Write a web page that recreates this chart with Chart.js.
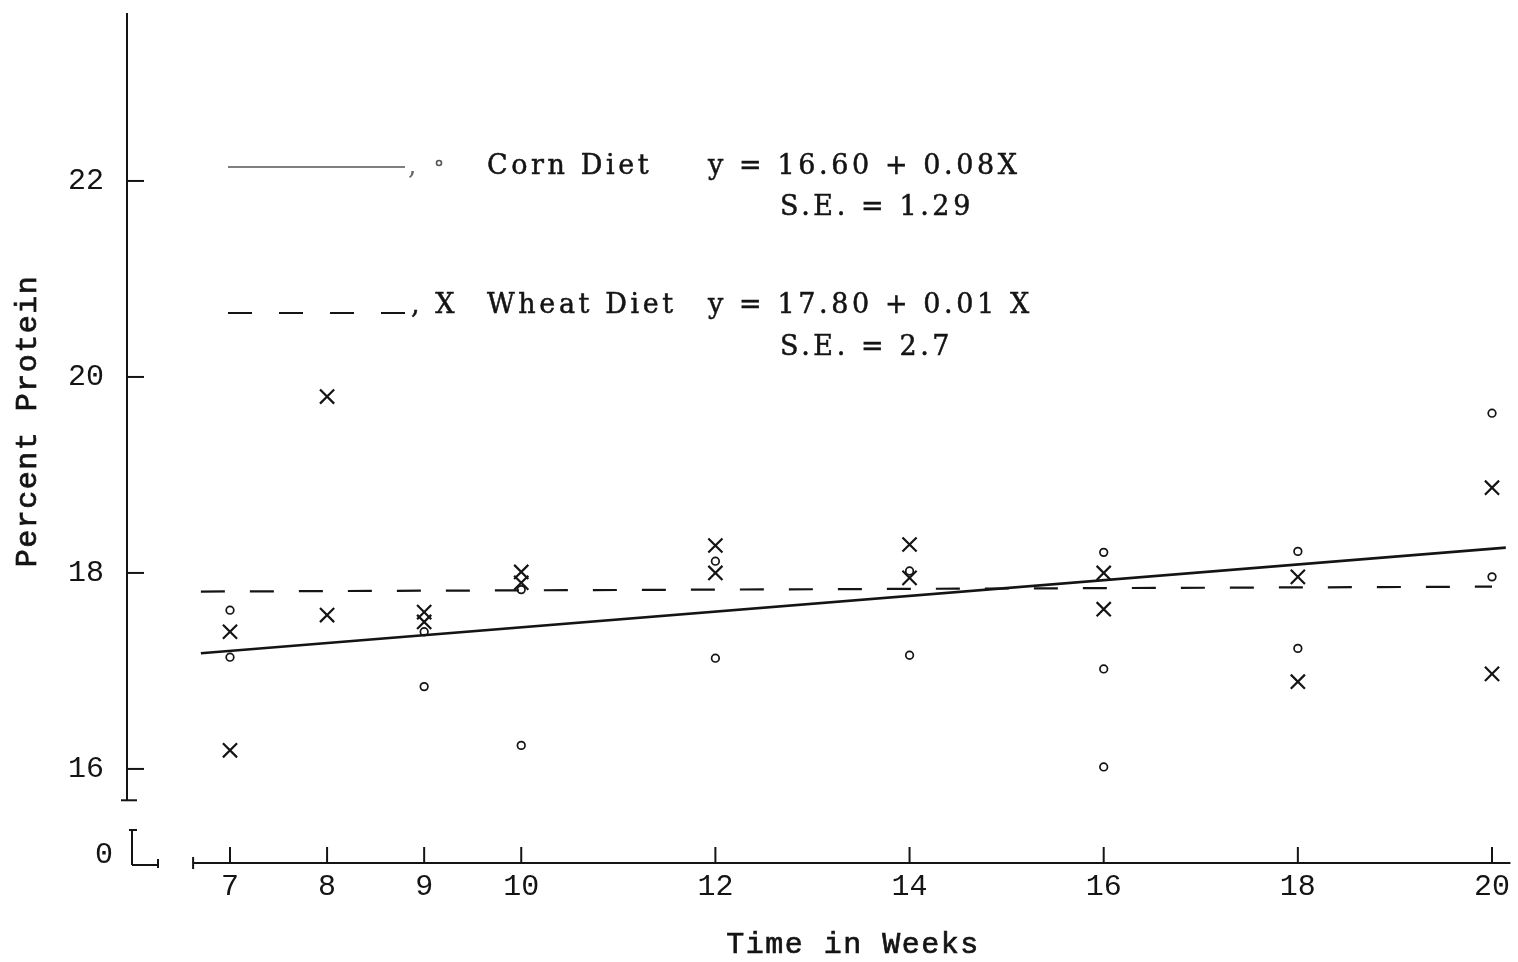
<!DOCTYPE html>
<html lang="en">
<head>
    <meta charset="UTF-8">
    <title>Percent Protein by Week</title>
    <script src="https://cdn.jsdelivr.net/npm/chart.js"></script>
    <style>
        body { margin: 0; background: #fff; }
        #proteinChart { display: block; }
    </style>
</head>
<body>
    <canvas id="proteinChart" width="1518" height="962"></canvas>

    <script>
        // Weeks on the time axis and protein ticks
        const weeks = [7, 8, 9, 10, 12, 14, 16, 18, 20];
        const proteinTicks = [16, 18, 20, 22];

        // Corn diet samples
        const cornWeeks  = [7, 7, 9, 9, 10, 10, 12, 12, 14, 14, 16, 16, 16, 18, 18, 20, 20];
        const cornValues = [17.62, 17.14, 17.40, 16.84, 17.83, 16.24, 18.12, 17.13, 18.02, 17.16,
                            18.21, 17.02, 16.02, 18.22, 17.23, 19.63, 17.96];

        // Wheat diet samples
        const wheatWeeks  = [7, 7, 8, 8, 9, 9, 10, 10, 12, 12, 14, 14, 16, 16, 18, 18, 20, 20];
        const wheatValues = [17.40, 16.19, 19.80, 17.57, 17.60, 17.50, 18.01, 17.90, 18.28, 18.00,
                             18.29, 17.95, 18.00, 17.63, 17.96, 16.89, 18.87, 16.97];

        // Regression lines (end points)
        const cornFitWeeks   = [6.7, 20.17];
        const cornFitValues  = [17.18, 18.26];
        const wheatFitWeeks  = [6.7, 20.0];
        const wheatFitValues = [17.81, 17.86];

        const cornKey  = ['Corn Diet', 'y = 16.60 + 0.08X', 'S.E. = 1.29'];
        const wheatKey = ['Wheat Diet', 'y = 17.80 + 0.01 X', 'S.E. = 2.7'];

        const ink = '#141414';
        const typeFont = '"Liberation Mono", monospace';
        const serifFont = '"DejaVu Serif", serif';

        const toPoints = (xs, ys) => xs.map((w, i) => ({ x: w, y: ys[i] }));

        function seg(ctx, x1, y1, x2, y2) {
            ctx.beginPath();
            ctx.moveTo(x1, y1);
            ctx.lineTo(x2, y2);
            ctx.stroke();
        }

        // typed text: fill plus a hairline stroke so it reads like ribbon ink
        function typed(ctx, text, x, y) {
            ctx.fillText(text, x, y);
            ctx.strokeText(text, x, y);
        }

        // hand-drawn style axes with a broken zero, plus the key and axis titles
        const paperAxes = {
            id: 'paperAxes',
            afterDraw(chart) {
                const { ctx, chartArea, scales: { x, y } } = chart;
                const left = chartArea.left, bottom = chartArea.bottom;
                ctx.save();
                ctx.strokeStyle = ink;
                ctx.fillStyle = ink;
                ctx.lineWidth = 2;

                // protein axis
                const yEnd = y.getPixelForValue(15.68);
                seg(ctx, left, chartArea.top, left, yEnd);
                seg(ctx, left - 6, yEnd, left + 10, yEnd);
                proteinTicks.forEach(v => {
                    const py = y.getPixelForValue(v);
                    seg(ctx, left, py, left + 17, py);
                });

                // zero stub
                seg(ctx, left + 2, bottom - 33, left + 10, bottom - 33);
                seg(ctx, left + 5, bottom - 33, left + 5, bottom + 2);
                seg(ctx, left + 5, bottom + 2, left + 31, bottom + 2);
                seg(ctx, left + 31, bottom - 4, left + 31, bottom + 5);

                // time axis
                const xStart = x.getPixelForValue(6.62);
                const xEnd = x.getPixelForValue(20.19);
                seg(ctx, xStart, bottom, xEnd, bottom);
                seg(ctx, xStart, bottom - 6, xStart, bottom + 6);
                weeks.forEach(w => {
                    const px = x.getPixelForValue(w);
                    seg(ctx, px, bottom, px, bottom - 16);
                });

                // zero label on the broken axis
                ctx.font = '30px ' + typeFont;
                ctx.textAlign = 'center';
                ctx.textBaseline = 'middle';
                ctx.fillText('0', left - 23, bottom - 8);

                // key
                ctx.lineWidth = 1.6;
                ctx.strokeStyle = '#555';
                seg(ctx, 228, 167, 405, 167);
                ctx.beginPath();
                ctx.arc(439, 163, 2.5, 0, Math.PI * 2);
                ctx.stroke();
                ctx.strokeStyle = ink;
                ctx.lineWidth = 2;
                ctx.setLineDash([24, 27]);
                seg(ctx, 228, 313, 410, 313);
                ctx.setLineDash([]);

                ctx.textAlign = 'left';
                ctx.font = '27px ' + serifFont;
                ctx.letterSpacing = '3.6px';
                ctx.lineWidth = 0.5;
                ctx.fillStyle = '#666';
                ctx.fillText(',', 408, 167);
                ctx.fillStyle = ink;
                typed(ctx, ', X', 411, 306);
                typed(ctx, cornKey[0], 487, 167);
                typed(ctx, cornKey[1], 708, 167);
                typed(ctx, cornKey[2], 780, 208);
                typed(ctx, wheatKey[0], 487, 306);
                typed(ctx, wheatKey[1], 708, 306);
                typed(ctx, wheatKey[2], 780, 348);

                // axis titles
                ctx.font = '30px ' + typeFont;
                ctx.letterSpacing = '1.5px';
                ctx.lineWidth = 0.7;
                ctx.textAlign = 'center';
                typed(ctx, 'Time in Weeks', 853, 945);
                ctx.translate(28, 421);
                ctx.rotate(-Math.PI / 2);
                typed(ctx, 'Percent Protein', 0, 0);
                ctx.restore();
            }
        };

        const ctx = document.getElementById('proteinChart').getContext('2d');
        new Chart(ctx, {
            type: 'scatter',
            data: {
                datasets: [
                    {
                        label: 'Wheat Diet',
                        data: toPoints(wheatWeeks, wheatValues),
                        pointStyle: 'crossRot',
                        pointRadius: 10,
                        borderColor: ink,
                        pointBorderWidth: 2.2
                    },
                    {
                        label: 'Corn Diet',
                        data: toPoints(cornWeeks, cornValues),
                        pointStyle: 'circle',
                        pointRadius: 3.8,
                        borderColor: ink,
                        backgroundColor: 'rgba(0,0,0,0)',
                        pointBorderWidth: 1.7
                    },
                    {
                        label: 'Corn fit',
                        data: toPoints(cornFitWeeks, cornFitValues),
                        showLine: true,
                        pointRadius: 0,
                        borderColor: ink,
                        borderWidth: 2.6
                    },
                    {
                        label: 'Wheat fit',
                        data: toPoints(wheatFitWeeks, wheatFitValues),
                        showLine: true,
                        pointRadius: 0,
                        borderColor: ink,
                        borderWidth: 2.2,
                        borderDash: [24, 25]
                    }
                ]
            },
            options: {
                responsive: false,
                animation: false,
                layout: { padding: { top: 13, right: 7, left: 0, bottom: 0 } },
                plugins: {
                    legend: { display: false },
                    tooltip: { enabled: false }
                },
                scales: {
                    x: {
                        type: 'linear',
                        min: 5.939,
                        max: 20.142,
                        grid: { display: false, drawTicks: false },
                        border: { display: false },
                        afterBuildTicks: scale => { scale.ticks = weeks.map(v => ({ value: v })); },
                        afterFit: scale => {
                            scale.height = 99;
                            scale.paddingLeft = 0;
                            scale.paddingRight = 0;
                        },
                        ticks: {
                            color: ink,
                            font: { family: typeFont, size: 30 },
                            padding: 6,
                            maxRotation: 0,
                            autoSkip: false
                        }
                    },
                    y: {
                        min: 15.04,
                        max: 23.714,
                        grid: { display: false, drawTicks: false },
                        border: { display: false },
                        afterBuildTicks: scale => {
                            scale.ticks = proteinTicks.map(v => ({ value: v }));
                        },
                        afterFit: scale => {
                            scale.width = 127;
                            scale.paddingTop = 0;
                            scale.paddingBottom = 0;
                        },
                        ticks: {
                            color: ink,
                            font: { family: typeFont, size: 30 },
                            padding: 23
                        }
                    }
                }
            },
            plugins: [paperAxes]
        });
    </script>
</body>
</html>
